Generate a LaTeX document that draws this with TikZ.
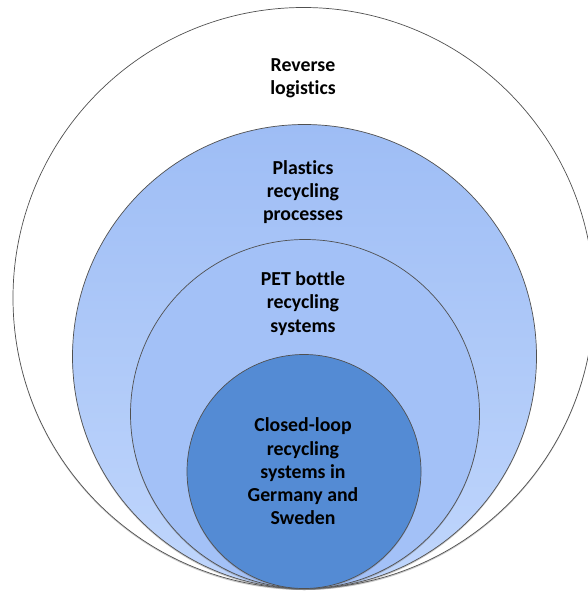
\documentclass[tikz,border=0pt]{standalone}
\usepackage{fontspec}
\setmainfont{Carlito}[Ligatures=NoCommon]
\usetikzlibrary{shadows}
\definecolor{ringline}{RGB}{80,80,80}
\definecolor{lighttop}{RGB}{158,189,245}
\definecolor{lightbot}{RGB}{192,214,252}
\definecolor{midblue}{RGB}{163,193,247}
\definecolor{deepblue}{RGB}{84,139,212}
\tikzset{
  ring/.style={circle, draw=ringline, line width=0.7pt, inner sep=0pt,
    drop shadow={shadow xshift=0pt, shadow yshift=-1.5pt, opacity=0.35, fill=black!60}},
  label/.style={align=center, font=\fontsize{19.8}{23.3}\selectfont\bfseries, text=black, inner sep=0pt}
}
\begin{document}
\begin{tikzpicture}[x=1pt,y=-1pt]
\useasboundingbox (0,0) rectangle (587,592);
\node[ring, fill=white, minimum size=581pt] (c1) at (303.5,298) {};
\node[ring, top color=lighttop, bottom color=lightbot, minimum size=464pt] (c2) at (304.5,356.5) {};
\node[ring, fill=midblue, minimum size=349pt] (c3) at (305,414) {};
\node[ring, fill=deepblue, minimum size=234pt] (c4) at (304,471.5) {};
\node[label] (t1) at (303,78.5) {Reverse\\logistics};
\node[label] (t2) at (303,192) {Plastics\\recycling\\processes};
\node[label] (t3) at (303,303.5) {PET bottle\\recycling\\systems};
\node[label] (t4) at (303,471.5) {Closed-loop\\recycling\\systems in\\Germany and\\Sweden};
\end{tikzpicture}
\end{document}
